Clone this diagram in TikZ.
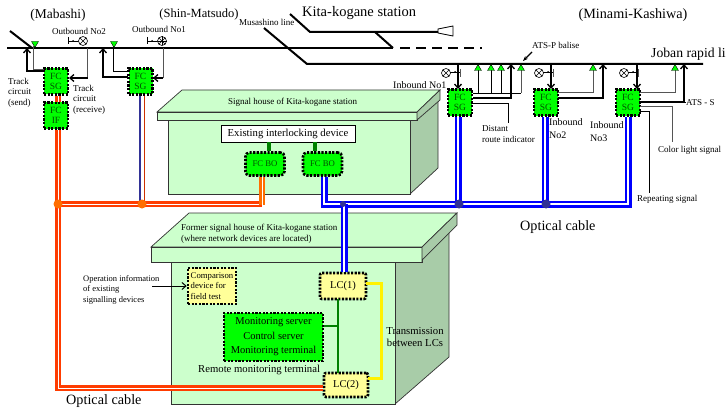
\documentclass[tikz,border=0pt]{standalone}
\usepackage{fontspec}
\setmainfont{Liberation Serif}
\usetikzlibrary{arrows.meta,shapes.geometric}
\definecolor{hsgreen}{RGB}{204,255,204}
\definecolor{hsside}{RGB}{168,204,168}
\definecolor{fcgreen}{RGB}{0,255,0}
\definecolor{fctext}{RGB}{0,80,0}
\definecolor{lnkgreen}{RGB}{0,128,0}
\definecolor{cabred}{RGB}{255,60,0}
\definecolor{cabor}{RGB}{255,110,0}
\definecolor{cabblue}{RGB}{0,0,255}
\definecolor{dotblue}{RGB}{50,50,150}
\definecolor{lcyellow}{RGB}{255,255,153}
\definecolor{wiregrey}{RGB}{85,85,85}
\begin{document}
\begin{tikzpicture}[x=1pt, y=-1pt,
  txs/.style={inner sep=0pt, align=left, font=\fontsize{9}{10.5}\selectfont},
  txm/.style={inner sep=0pt, align=left, font=\fontsize{10}{13}\selectfont},
  txb/.style={inner sep=0pt, font=\fontsize{14.2}{16}\selectfont},
  fcbox/.style={draw=black, fill=fcgreen, line width=2.6pt, dash pattern=on 2.2pt off 1.4pt, minimum width=24pt, minimum height=26pt, inner sep=0pt, align=center, text=fctext, font=\fontsize{9.5}{10}\selectfont},
  fcbo/.style={fcbox, rounded corners=4pt, minimum width=39pt, minimum height=23pt, font=\fontsize{8.7}{10}\selectfont},
  lcbox/.style={fcbox, fill=lcyellow, text=black, rounded corners=2pt, font=\fontsize{10.5}{12}\selectfont},
  rail/.style={line width=2pt, black},
  wire/.style={line width=1pt, wiregrey},
  wirek/.style={line width=0.8pt, black},
  upar/.style={line width=1.3pt, black, -{Straight Barb[length=4pt,width=7pt]}},
  optr/.style={line width=2.4pt, double=white, double distance=1pt},
  optb/.style={line width=2.8pt, double=white, double distance=1.4pt},
  tri/.style={regular polygon, regular polygon sides=3, draw=black, line width=0.4pt, fill=fcgreen, minimum size=8pt, inner sep=0pt},
  house/.style={draw=black!80, line width=0.7pt, fill=hsgreen},
  houses/.style={draw=black!80, line width=0.7pt, fill=hsside},
  jdot/.style={circle, fill=cabor, minimum size=9pt, inner sep=0pt},
  bdot/.style={circle, fill=dotblue, minimum size=9pt, inner sep=0pt},
  lamp/.pic={\draw[line width=0.6pt, fill=white] (0,0) circle (4.5pt);
    \draw[line width=0.6pt] (-3.2,-3.2) -- (3.2,3.2) (-3.2,3.2) -- (3.2,-3.2);}]
\useasboundingbox (0,0) rectangle (727,409);
% Tracks
\draw[rail] (7,48) -- (393,48);
\draw[rail] (10,31) -- (32,48);
\draw[rail, dash pattern=on 10pt off 6pt] (400,48) -- (482,48);
\draw[rail] (290,14) -- (310,32) -- (438,32);
\draw[rail] (375,32) -- (393,48);
\draw[rail] (264,28) -- (307,64) -- (703,64);
\draw[line width=0.8pt] (438,29) -- (453,26) -- (453,36) -- (438,33) -- cycle;
% Signal house of Kita-kogane
\draw[houses] (410,120) -- (438,100) -- (438,168) -- (410,194) -- cycle;
\draw[house] (168,120) rectangle (410,194);
\draw[house] (182,90) -- (440,90) -- (417,112) -- (157,112) -- cycle;
\draw[house] (157,112) rectangle (417,120);
\draw[houses] (417,112) -- (440,90) -- (440,100) -- (417,120) -- cycle;
\node[txs, anchor=west] (hs1) at (228,102) {Signal house of Kita-kogane station};
% Former signal house
\draw[houses] (395,262) -- (449,225) -- (449,357) -- (395,404) -- cycle;
\draw[house] (171,262) rectangle (395,404);
\draw[house] (189,213) -- (457,213) -- (422,247) -- (151,247) -- cycle;
\draw[house] (151,247) rectangle (422,262);
\draw[houses] (422,247) -- (457,213) -- (457,225) -- (422,260) -- (422,262) -- cycle;
\node[txs, anchor=north west] (hs2) at (181,224) {Former signal house of Kita-kogane station\\(where network devices are located)};
% Devices
\node[fcbox] (sga) at (56,81.5) {FC\\SG};
\node[fcbox] (ifa) at (56,115.5) {FC\\IF};
\node[fcbox] (sgb) at (140.5,81.5) {FC\\SG};
\node[fcbox] (sgc) at (460,102.5) {FC\\SG};
\node[fcbox] (sgd) at (546,102.5) {FC\\SG};
\node[fcbox] (sge) at (628,102.5) {FC\\SG};
\node[draw=black, fill=white, line width=0.8pt, minimum width=134pt, minimum height=17pt, inner sep=0pt, font=\fontsize{10.7}{12}\selectfont] (ild) at (288,133.5) {Existing interlocking device};
\node[fcbo] (boa) at (265,164) {FC BO};
\node[fcbo] (bob) at (322.5,164) {FC BO};
\node[lcbox] (lca) at (343,286) [minimum width=46pt, minimum height=26pt] {LC(1)};
\node[lcbox] (lcb) at (346,385) [minimum width=44pt, minimum height=24pt] {LC(2)};
\node[fcbox, fill=lcyellow, text=black, minimum width=48pt, minimum height=36pt, align=left, font=\fontsize{8.7}{10.5}\selectfont] (cmp) at (212,286) {Comparison\\device for\\field test};
\node[fcbox, text=black, minimum width=99pt, minimum height=48pt, font=\fontsize{10.5}{14.5}\selectfont] (mon) at (273.5,337) {Monitoring server\\Control server\\Monitoring terminal};
% Optical cable, orange side
\coordinate (jca) at (58,204);
\coordinate (jcb) at (142,204);
\coordinate (jcc) at (262,204);
\coordinate (jcd) at (58,388);
\draw[optr, cabred] (58,96) -- (58,102);
\draw[optr, cabred] (58,130) -- (jcd) -- (lcb.west |- jcd);
\draw[optr, cabred] (jca) -- (jcc);
\draw[optr, cabor] (262,177) -- (262,205);
\draw[line width=1.5pt, dotblue] (140,96) -- (140,204);
\draw[line width=1.5pt, cabred!80!black] (144.5,96) -- (144.5,204);
\node[jdot] (dota) at (jca) {};
\node[jdot] (dotb) at (jcb) {};
% Optical cable, blue side
\coordinate (jce) at (324,204);
\coordinate (jcf) at (628,204);
\draw[optb, cabblue] (324,177) -- (jce) -- (jcf) -- (628,117);
\draw[optb, cabblue] (458,117) -- (458,204);
\draw[optb, cabblue] (545,117) -- (545,204);
\draw[optb, cabblue] (344,204) -- (344,272);
\node[bdot] (dotc) at (459,204) {};
\node[bdot] (dotd) at (546,204) {};
\node[bdot, minimum size=6pt] (dote) at (343,204) {};
% Links inside the houses
\draw[line width=3.5pt, lnkgreen] (269,142) -- (269,151);
\draw[line width=3.5pt, lnkgreen] (315,142) -- (315,151);
\draw[line width=1.6pt, lnkgreen] (338,299) -- (338,373);
\draw[line width=1.6pt, lnkgreen] (mon.east |- 0,326) -- (338,326);
\draw[line width=3pt, yellow] (366,283) -- (381,283) -- (381,378) -- (368,378);
% Mabashi side wiring
\draw[upar] (43,71) -- (27,71) -- (27,48);
\draw[wire] (44,70) -- (33.5,70) -- (33.5,46);
\draw[wire] (87.5,48) -- (87.5,78) -- (76,78);
\draw[upar] (87.5,78) -- (69,78);
\draw[upar] (128,77) -- (103,77) -- (103,48);
\draw[wirek] (128,71) -- (113,71) -- (113,46);
\draw[wire] (163,48) -- (163,78);
\draw[upar] (163,78) -- (153,78);
\node[tri, shape border rotate=180] (ta) at (35,43.5) {};
\node[tri, shape border rotate=180] (tb) at (114,43.5) {};
% Outbound signals
\draw[wirek] (68.5,37) -- (68.5,44) (68.5,41) -- (80,41);
\fill (73,41) circle (1pt);
\pic at (83,41) {lamp};
\draw[wirek] (147.5,37) -- (147.5,44) (147.5,41) -- (158,41);
\fill (152,41) circle (1pt);
\pic at (162,41) {lamp};
\draw[line width=0.6pt] (162,36.5) -- (162,45.5) (157.5,41) -- (166.5,41);
% Inbound wiring
\foreach \sx in {458,551,637} {
  \draw[upar] (\sx,64) -- (\sx,89);
}
\draw[wirek] (473,93) -- (521,93) (478,64) -- (478,93) (491,64) -- (491,93) (501,64) -- (501,93);
\draw[wire] (521,70) -- (521,93);
\draw[upar] (473,98) -- (511,98) -- (511,64);
\draw[wirek] (473,103) -- (508,103) -- (508,123);
\draw[wire] (558,93) -- (593,93) -- (593,70);
\draw[upar] (558,98) -- (603,98) -- (603,64);
\draw[wire] (640,93) -- (675,93) -- (675,70);
\draw[upar] (640,102) -- (684,102) -- (684,64);
\draw[wirek] (684,102) -- (686,102);
\draw[wire] (640,107) -- (672,107) -- (672,142);
\draw[wirek] (640,111) -- (649,111) -- (649,193);
\foreach \sx/\sn in {478/tc,491/td,501/te,521/tf,593/tg,675/th} {
  \node[tri] (\sn) at (\sx,68.5) {};
}
% Inbound signals
\foreach \sx in {446,539,624} {
  \pic at (\sx,73) {lamp};
  \fill (\sx+9,72) circle (1pt);
  \draw[wirek] (\sx+4,72) -- (\sx+14,72);
  \draw[line width=1pt, wiregrey] (\sx+14.5,69) -- (\sx+14.5,77);
}
% ATS-P pointer
\coordinate (atsa) at (532,52);
\coordinate (atsb) at (523,61);
\draw[line width=1.2pt, -{Stealth[length=5pt]}] (atsa) -- (atsb);
% Operation information pointer
\coordinate (opi) at (152,286);
\draw[line width=1pt, -{Straight Barb[length=4pt,width=7pt]}] (opi) -- (cmp.west);
% Labels
\node[txb, anchor=center, font=\fontsize{13.5}{15}\selectfont] (lma) at (58,15) {(Mabashi)};
\node[txb, anchor=center, font=\fontsize{12.5}{15}\selectfont] (lsh) at (199,14) {(Shin-Matsudo)};
\node[txb, anchor=west, font=\fontsize{14.5}{16}\selectfont] (lki) at (302,13) {Kita-kogane station};
\node[txb, anchor=center] (lmk) at (633,15) {(Minami-Kashiwa)};
\node[txb, anchor=west, font=\fontsize{13.7}{16}\selectfont] (ljb) at (651,54) {Joban rapid li};
\node[txs, anchor=west] (lms) at (239,22) {Musashino line};
\node[txs, anchor=west] (lo2) at (52,31) {Outbound No2};
\node[txs, anchor=west] (lo1) at (132,29) {Outbound No1};
\node[txs, anchor=north west] (ltr) at (8,78) {Track\\circuit\\(send)};
\node[txs, anchor=north west] (ltc) at (73,85) {Track\\circuit\\(receive)};
\node[txs, anchor=west] (lap) at (532,45) {ATS-P balise};
\node[txm, anchor=west] (li1) at (393,85) {Inbound No1};
\node[txm, anchor=north west] (li2) at (549,118) {Inbound\\No2};
\node[txm, anchor=north west] (li3) at (590,121) {Inbound\\No3};
\node[txs, anchor=north west] (ldr) at (482,125.5) {Distant\\route indicator};
\node[txs, anchor=west] (las) at (686,103) {ATS - S};
\node[txs, anchor=west] (lcl) at (658,150) {Color light signal};
\node[txs, anchor=west] (lrp) at (637,199) {Repeating signal};
\node[txb, anchor=west] (lopa) at (520,227) {Optical cable};
\node[txb, anchor=west] (lopb) at (66,401) {Optical cable};
\node[txs, anchor=north west, font=\fontsize{8.5}{10.5}\selectfont] (lop) at (83,275) {Operation information\\of existing\\signalling devices};
\node[txm, anchor=west, font=\fontsize{10.7}{12}\selectfont] (lrm) at (198,370) {Remote monitoring terminal};
\node[txs, align=center, anchor=center, font=\fontsize{10.7}{12.5}\selectfont] (ltm) at (415,337) {Transmission\\between LCs};
\end{tikzpicture}
\end{document}
